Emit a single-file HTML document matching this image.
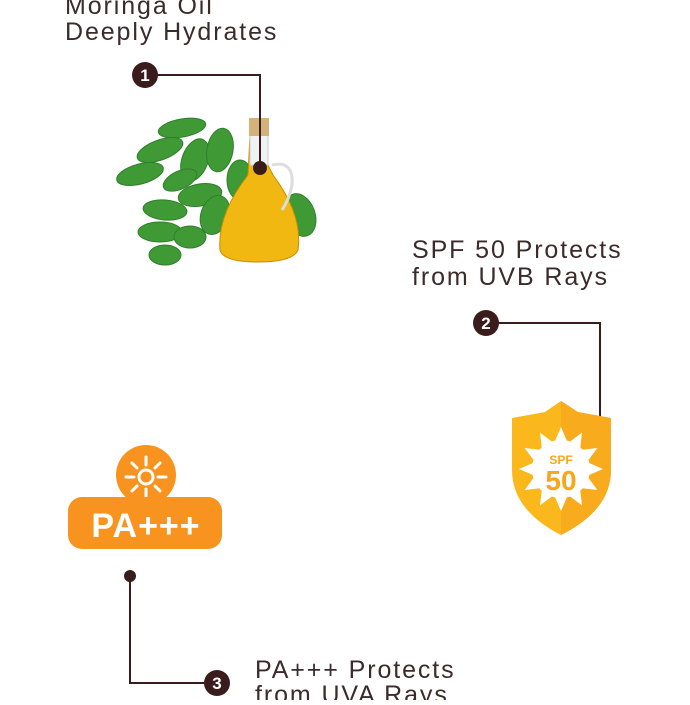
<!DOCTYPE html>
<html><head><style>
body{margin:0;width:690px;height:700px;overflow:hidden;background:#fff;font-family:"Liberation Sans",sans-serif;}
</style></head><body>
<svg width="690" height="700" viewBox="0 0 690 700" xmlns="http://www.w3.org/2000/svg">
<g font-family="Liberation Sans, sans-serif" font-size="25" fill="#3b2b2b" letter-spacing="1.9">
<text x="65" y="14">Moringa Oil</text>
<text x="65" y="40">Deeply Hydrates</text>
<text x="412" y="258">SPF 50 Protects</text>
<text x="412" y="285">from UVB Rays</text>
<text x="255" y="678">PA+++ Protects</text>
<text x="255" y="703">from UVA Rays</text>
</g>
<!-- leaves -->
<g fill="#3f9a36" stroke="#2f7f2a" stroke-width="1">
<ellipse cx="182" cy="128" rx="24" ry="9" transform="rotate(-10 182 128)"/>
<ellipse cx="160" cy="150" rx="24" ry="10" transform="rotate(-20 160 150)"/>
<ellipse cx="140" cy="174" rx="24" ry="10" transform="rotate(-15 140 174)"/>
<ellipse cx="165" cy="210" rx="22" ry="10" transform="rotate(5 165 210)"/>
<ellipse cx="160" cy="232" rx="22" ry="10"/>
<ellipse cx="165" cy="255" rx="16" ry="10"/>
<ellipse cx="195" cy="160" rx="13" ry="22" transform="rotate(20 195 160)"/>
<ellipse cx="220" cy="150" rx="13" ry="22" transform="rotate(10 220 150)"/>
<ellipse cx="200" cy="195" rx="22" ry="11" transform="rotate(-10 200 195)"/>
<ellipse cx="215" cy="215" rx="14" ry="20" transform="rotate(20 215 215)"/>
<ellipse cx="190" cy="237" rx="16" ry="11"/>
<ellipse cx="300" cy="215" rx="15" ry="22" transform="rotate(-20 300 215)"/>
<ellipse cx="240" cy="180" rx="13" ry="20"/>
<ellipse cx="180" cy="180" rx="18" ry="9" transform="rotate(-25 180 180)"/>
</g>
<!-- bottle -->
<path d="M250 135 h18 v30 l5 10 q30 40 25 75 q-5 12 -40 12 q-35 0 -38 -12 q-3 -35 28 -75 z" fill="#f0b810" stroke="#c78d00"/>
<path d="M250 135 h18 v30 h-18z" fill="#eef2f2" stroke="#ccc"/>
<rect x="249" y="118" width="20" height="18" fill="#d4b27a"/>
<path d="M272 165 q22 -5 20 20 q-3 15 -10 25" fill="none" stroke="#ddd" stroke-width="3"/>
<g stroke="#3a1c1c" stroke-width="2" fill="none">
<polyline points="157,75 260,75 260,168"/>
<polyline points="498,323 600,323 600,447"/>
<polyline points="130,576 130,683 205,683"/>
</g>
<g fill="#3a1c1c">
<circle cx="260" cy="168" r="7"/>
<circle cx="600" cy="447" r="7"/>
<circle cx="130" cy="576" r="6"/>
<circle cx="145" cy="75" r="13"/>
<circle cx="486" cy="323" r="13"/>
<circle cx="217" cy="683" r="13"/>
</g>
<g fill="#fff" font-family="Liberation Sans, sans-serif" font-weight="bold" font-size="17" text-anchor="middle">
<text x="145" y="81">1</text><text x="486" y="329">2</text><text x="217" y="689">3</text>
</g>
<!-- shield -->
<path d="M561 401 L578 412 L611 418 V470 Q611 510 561 535 Q512 510 512 470 V418 L545 412 Z" fill="#fbb81c"/>
<path d="M561 401 L578 412 L611 418 V470 Q611 510 561 535 Z" fill="#f9ab1e"/>
<g fill="#fff" transform="translate(561 469)">
<polygon points="-6,-28 0,-42 6,-28"/><polygon points="-6,-28 0,-42 6,-28" transform="rotate(30)"/><polygon points="-6,-28 0,-42 6,-28" transform="rotate(60)"/><polygon points="-6,-28 0,-42 6,-28" transform="rotate(90)"/><polygon points="-6,-28 0,-42 6,-28" transform="rotate(120)"/><polygon points="-6,-28 0,-42 6,-28" transform="rotate(150)"/><polygon points="-6,-28 0,-42 6,-28" transform="rotate(180)"/><polygon points="-6,-28 0,-42 6,-28" transform="rotate(210)"/><polygon points="-6,-28 0,-42 6,-28" transform="rotate(240)"/><polygon points="-6,-28 0,-42 6,-28" transform="rotate(270)"/><polygon points="-6,-28 0,-42 6,-28" transform="rotate(300)"/><polygon points="-6,-28 0,-42 6,-28" transform="rotate(330)"/>
<circle r="29"/>
</g>
<g fill="#f6a81c" font-family="Liberation Sans, sans-serif" font-weight="bold" text-anchor="middle">
<text x="561" y="464" font-size="12">SPF</text>
<text x="561" y="490" font-size="28">50</text>
</g>
<!-- PA badge -->
<circle cx="146" cy="475" r="30" fill="#f7931e"/>
<g stroke="#fff" stroke-width="3" stroke-linecap="round" transform="translate(146 477)">
<circle r="7" fill="none"/>
<line x1="0" y1="-12" x2="0" y2="-20"/><line x1="0" y1="12" x2="0" y2="20"/><line x1="12" y1="0" x2="20" y2="0"/><line x1="-12" y1="0" x2="-20" y2="0"/>
<line x1="9" y1="-9" x2="14" y2="-14"/><line x1="-9" y1="-9" x2="-14" y2="-14"/><line x1="9" y1="9" x2="14" y2="14"/><line x1="-9" y1="9" x2="-14" y2="14"/>
</g>
<rect x="68" y="497" width="154" height="52" rx="14" fill="#f7931e"/>
<text x="146" y="537" fill="#fff" font-family="Liberation Sans, sans-serif" font-weight="bold" font-size="34" text-anchor="middle" letter-spacing="1">PA+++</text>
</svg>
</body></html>
